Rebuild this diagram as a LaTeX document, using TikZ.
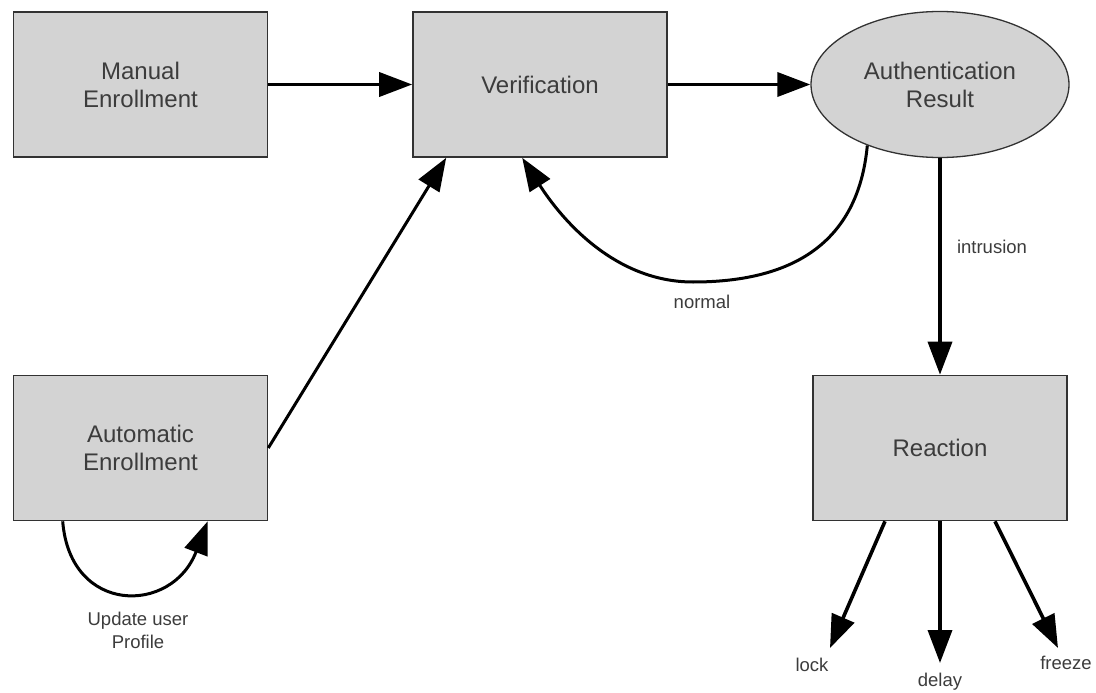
\documentclass[tikz,border=0pt]{standalone}
\usepackage{fontspec}
\setmainfont{Liberation Sans}
\usetikzlibrary{shapes.geometric,arrows.meta}
\definecolor{boxfill}{RGB}{211,211,211}
\definecolor{txt}{RGB}{60,60,60}
\definecolor{edge}{RGB}{50,50,50}
\begin{document}
\begin{tikzpicture}[x=1pt,y=-1pt,
  box/.style={draw=edge,line width=1.6pt,fill=boxfill,rectangle,minimum width=254pt,minimum height=145pt,inner sep=0pt,align=center,text=txt,font=\fontsize{24}{28}\selectfont},
  oval/.style={draw=edge,line width=1.3pt,fill=boxfill,ellipse,minimum width=258pt,minimum height=146pt,inner sep=0pt,align=center,text=txt,font=\fontsize{24}{28}\selectfont},
  lbl/.style={text=txt,font=\fontsize{18.5}{23}\selectfont,align=center,inner sep=0pt},
  conn/.style={line width=3.6pt,-{Triangle[length=33pt,width=24pt]}}
]
\useasboundingbox (0,0) rectangle (1096,693);
\fill[white] (0,0) rectangle (1096,693);

\node[box] (man) at (140.5,84.5) {Manual\\Enrollment};
\node[box] (ver) at (540,84.5) {Verification};
\node[oval] (auth) at (940,84.5) {Authentication\\Result};
\node[box] (auto) at (140.5,448) {Automatic\\Enrollment};
\node[box] (react) at (940,448) {Reaction};

\node[lbl] (lupd) at (138,630) {Update user\\Profile};
\node[lbl] (lnorm) at (702,302) {normal};
\node[lbl] (lint) at (992,247) {intrusion};
\node[lbl] (llock) at (812,665) {lock};
\node[lbl] (ldelay) at (940,682) {delay};
\node[lbl] (lfreeze) at (1066,663) {freeze};

\coordinate (tlock) at (830,648);
\coordinate (tdelay) at (940,663);
\coordinate (tfreeze) at (1058,648);

\draw[conn] (man.east) -- (ver.west);
\draw[conn] (ver.east) -- (auth.west);
\draw[conn,line width=3pt] (auto.east) -- ([xshift=34pt]ver.south west);
\draw[conn,line width=3pt] (auth.220) .. controls (858,245) and (790,282) .. (693,282)
   .. controls (615,282) and (562,220) .. ([xshift=110pt]ver.south west);
\draw[conn,line width=3pt] ([xshift=50pt]auto.south west) .. controls (70,615) and (172,615) .. ([xshift=195pt]auto.south west);
\draw[conn] (auth.south) -- (react.north);
\draw[conn] ([xshift=-55pt]react.south) -- (tlock);
\draw[conn] (react.south) -- (tdelay);
\draw[conn] ([xshift=55pt]react.south) -- (tfreeze);
\end{tikzpicture}
\end{document}
